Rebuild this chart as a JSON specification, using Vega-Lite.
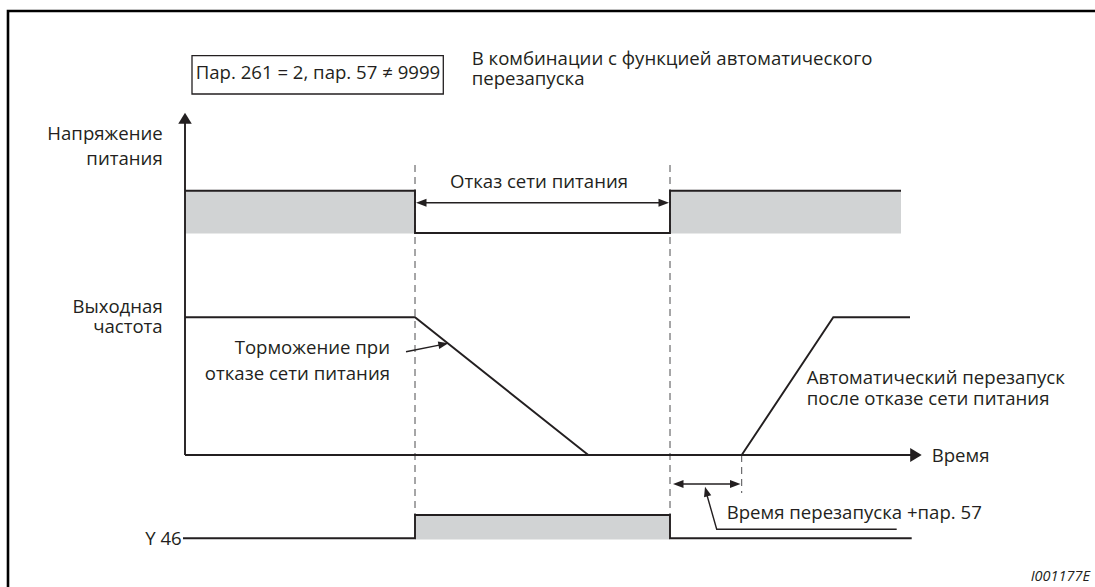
{
  "$schema": "https://vega.github.io/schema/vega-lite/v6.json",
  "width": 1095,
  "height": 587,
  "autosize": {"type": "none"},
  "padding": 0,
  "background": "white",
  "config": {"view": {"stroke": null}},
  "datasets": {
    "frame": [
      {"t": -177, "v": -140, "seq": 1},
      {"t": -177, "v": 444, "seq": 2},
      {"t": 920, "v": 444, "seq": 3}
    ],
    "traces": [
      {"id": "axis_y", "seq": 1, "t": 0, "v": 0},
      {"id": "axis_y", "seq": 2, "t": 0, "v": 332},
      {"id": "axis_t", "seq": 1, "t": 0, "v": 0},
      {"id": "axis_t", "seq": 2, "t": 726, "v": 0},
      {"id": "voltage", "seq": 1, "t": 0, "v": 264.3},
      {"id": "voltage", "seq": 2, "t": 230, "v": 264.3},
      {"id": "voltage", "seq": 3, "t": 230, "v": 222},
      {"id": "voltage", "seq": 4, "t": 485, "v": 222},
      {"id": "voltage", "seq": 5, "t": 485, "v": 264.3},
      {"id": "voltage", "seq": 6, "t": 716, "v": 264.3},
      {"id": "freq_down", "seq": 1, "t": 0, "v": 137.7},
      {"id": "freq_down", "seq": 2, "t": 230, "v": 137.7},
      {"id": "freq_down", "seq": 3, "t": 403.3, "v": 0},
      {"id": "freq_up", "seq": 1, "t": 556.7, "v": 0},
      {"id": "freq_up", "seq": 2, "t": 648.3, "v": 137.7},
      {"id": "freq_up", "seq": 3, "t": 725, "v": 137.7},
      {"id": "y46", "seq": 1, "t": -2, "v": -83.3},
      {"id": "y46", "seq": 2, "t": 230, "v": -83.3},
      {"id": "y46", "seq": 3, "t": 230, "v": -60},
      {"id": "y46", "seq": 4, "t": 485, "v": -60},
      {"id": "y46", "seq": 5, "t": 485, "v": -83.3},
      {"id": "y46", "seq": 6, "t": 726.7, "v": -83.3}
    ],
    "notes": [
      {"id": "fail", "seq": 1, "t": 236, "v": 252.3},
      {"id": "fail", "seq": 2, "t": 479, "v": 252.3},
      {"id": "restart", "seq": 1, "t": 492, "v": -29},
      {"id": "restart", "seq": 2, "t": 551, "v": -29},
      {"id": "brake", "seq": 1, "t": 221, "v": 103.3},
      {"id": "brake", "seq": 2, "t": 258, "v": 110.6},
      {"id": "leader", "seq": 1, "t": 520.8, "v": -36},
      {"id": "leader", "seq": 2, "t": 531.7, "v": -74.3},
      {"id": "leader", "seq": 3, "t": 711.7, "v": -74.3}
    ],
    "dashed": [
      {"t": 230, "v": 290, "v2": -60},
      {"t": 485, "v": 290, "v2": -60},
      {"t": 556.7, "v": 0, "v2": -38}
    ],
    "fills": [
      {"t": 0, "t2": 230, "v": 221.5, "v2": 264.3},
      {"t": 485, "t2": 716, "v": 221.5, "v2": 264.3},
      {"t": 230, "t2": 485, "v": -84.5, "v2": -60}
    ],
    "box": [
      {"t": 7, "t2": 258.3, "v": 361, "v2": 399.3}
    ],
    "heads": [
      {"t": 0, "v": 342.3, "head": "up_big"},
      {"t": 736.7, "v": 0, "head": "right_big"},
      {"t": 231, "v": 252.3, "head": "left_small"},
      {"t": 484, "v": 252.3, "head": "right_small"},
      {"t": 488, "v": -29, "head": "left_small"},
      {"t": 555.5, "v": -29, "head": "right_small"},
      {"t": 263.3, "v": 111.7, "head": "brake"},
      {"t": 520, "v": -31.7, "head": "leader"}
    ],
    "labels": [
      {"t": -22.3, "v": 315, "side": "right", "text": "Напряжение"},
      {"t": -22.3, "v": 290, "side": "right", "text": "питания"},
      {"t": -22.3, "v": 141.7, "side": "right", "text": "Выходная"},
      {"t": -22.3, "v": 121.7, "side": "right", "text": "частота"},
      {"t": 205, "v": 101, "side": "right", "text": "Торможение при"},
      {"t": 205, "v": 75, "side": "right", "text": "отказе сети питания"},
      {"t": -3.3, "v": -90, "side": "right", "text": "Y 46"},
      {"t": 354, "v": 267.3, "side": "center", "text": "Отказ сети питания"},
      {"t": 10.7, "v": 375.7, "side": "left", "text": "Пар. 261 = 2, пар. 57 ≠ 9999"},
      {"t": 286.7, "v": 390, "side": "left", "text": "В комбинации с функцией автоматического"},
      {"t": 286.7, "v": 370, "side": "left", "text": "перезапуска"},
      {"t": 621.7, "v": 70.7, "side": "left", "text": "Автоматический перезапуск"},
      {"t": 621.7, "v": 50, "side": "left", "text": "после отказе сети питания"},
      {"t": 746.7, "v": -6.7, "side": "left", "text": "Время"},
      {"t": 541.7, "v": -64.3, "side": "left", "text": "Время перезапуска +пар. 57"}
    ],
    "figid": [
      {"t": 905, "v": -125.7, "text": "I001177E"}
    ]
  },
  "encoding": {
    "x": {"field": "t", "type": "quantitative", "axis": null, "scale": {"domain": [-185, 910], "nice": false, "zero": false}},
    "y": {"field": "v", "type": "quantitative", "axis": null, "scale": {"domain": [-132, 455], "nice": false, "zero": false}}
  },
  "layer": [
    {
      "data": {"name": "fills"},
      "mark": {"type": "rect", "fill": "#d1d3d4"},
      "encoding": {"x2": {"field": "t2"}, "y2": {"field": "v2"}}
    },
    {
      "data": {"name": "box"},
      "mark": {"type": "rect", "fill": null, "stroke": "#231f20", "strokeWidth": 1.3},
      "encoding": {"x2": {"field": "t2"}, "y2": {"field": "v2"}}
    },
    {
      "data": {"name": "dashed"},
      "mark": {"type": "rule", "stroke": "#4d4d4f", "strokeWidth": 1, "strokeDash": [7, 5]},
      "encoding": {"y2": {"field": "v2"}}
    },
    {
      "data": {"name": "frame"},
      "mark": {"type": "line", "stroke": "#000000", "strokeWidth": 2.6, "strokeJoin": "miter"},
      "encoding": {"order": {"field": "seq"}}
    },
    {
      "data": {"name": "traces"},
      "mark": {"type": "line", "stroke": "#231f20", "strokeWidth": 1.9, "strokeJoin": "miter"},
      "encoding": {"detail": {"field": "id"}, "order": {"field": "seq"}}
    },
    {
      "data": {"name": "notes"},
      "mark": {"type": "line", "stroke": "#231f20", "strokeWidth": 1.4, "strokeJoin": "miter"},
      "encoding": {"detail": {"field": "id"}, "order": {"field": "seq"}}
    },
    {
      "data": {"name": "heads"},
      "mark": {"type": "point", "filled": true, "size": 100, "opacity": 1, "fill": "#231f20", "strokeWidth": 0},
      "encoding": {
        "shape": {
          "field": "head",
          "type": "nominal",
          "legend": null,
          "scale": {
            "domain": ["up_big", "right_big", "left_small", "right_small", "brake", "leader"],
            "range": [
              "M0,0L-1.35,2.2L1.35,2.2Z",
              "M0,0L-2.3,-1.4L-2.3,1.4Z",
              "M0,0L2.1,-0.8L2.1,0.8Z",
              "M0,0L-2.1,-0.8L-2.1,0.8Z",
              "M0,0L-2.108,-0.346L-1.816,1.126Z",
              "M0,0L-0.193,2.127L1.253,1.729Z"
            ]
          }
        }
      }
    },
    {
      "data": {"name": "labels"},
      "transform": [{"filter": "datum.side === 'right'"}],
      "mark": {"type": "text", "align": "right", "baseline": "alphabetic", "font": "Open Sans", "fontSize": 18.6, "fill": "#231f20"},
      "encoding": {"text": {"field": "text"}}
    },
    {
      "data": {"name": "labels"},
      "transform": [{"filter": "datum.side === 'left'"}],
      "mark": {"type": "text", "align": "left", "baseline": "alphabetic", "font": "Open Sans", "fontSize": 18.6, "fill": "#231f20"},
      "encoding": {"text": {"field": "text"}}
    },
    {
      "data": {"name": "labels"},
      "transform": [{"filter": "datum.side === 'center'"}],
      "mark": {"type": "text", "align": "center", "baseline": "alphabetic", "font": "Open Sans", "fontSize": 18.6, "fill": "#231f20"},
      "encoding": {"text": {"field": "text"}}
    },
    {
      "data": {"name": "figid"},
      "mark": {"type": "text", "align": "right", "baseline": "alphabetic", "font": "Open Sans", "fontSize": 14.5, "fontStyle": "italic", "fill": "#231f20"},
      "encoding": {"text": {"field": "text"}}
    }
  ]
}
